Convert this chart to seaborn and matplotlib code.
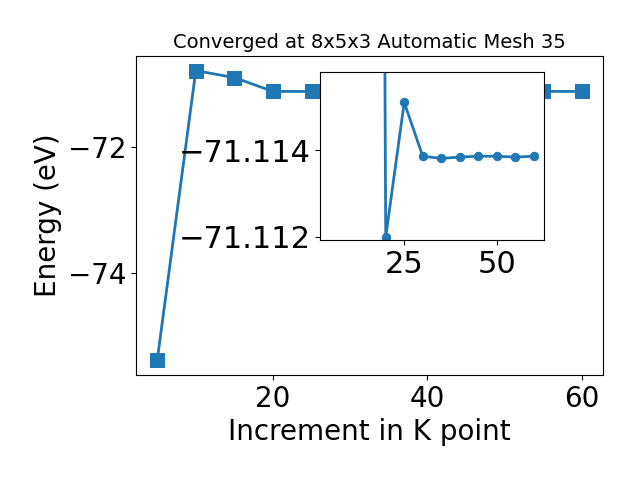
import numpy as np
import seaborn as sns
import matplotlib.pyplot as plt
import pandas as pd

# main curve
kpoints = [5, 10, 15, 20, 25, 30, 35, 40, 45, 50, 55, 60]
energy = [-75.38, -70.78, -70.89, -71.11, -71.11, -71.11, -71.11, -71.11, -71.11, -71.11, -71.11, -71.11]

# zoomed values for the inset
inset_kpoints = [15, 20, 25, 30, 35, 40, 45, 50, 55, 60]
inset_energy = [-71.20, -71.1120, -71.1151, -71.11386, -71.11381, -71.11384, -71.11386, -71.11386, -71.11384, -71.11386]

df = pd.DataFrame({'k': kpoints, 'E': energy})
df_in = pd.DataFrame({'k': inset_kpoints, 'E': inset_energy})

fig = plt.figure(figsize=(6.4, 4.8), dpi=100)
ax = fig.add_axes([0.2125, 0.219, 0.7295, 0.664])
sns.lineplot(x='k', y='E', data=df, marker='s', markersize=10, linewidth=2,
             color='#1f77b4', markeredgecolor='#1f77b4', ax=ax)
ax.set_xlim(2.25, 62.75)
ax.set_xlabel('Increment in K point', fontsize=20)
ax.set_ylabel('Energy (eV)', fontsize=20)
ax.set_title('Converged at 8x5x3 Automatic Mesh 35', fontsize=14)
ax.tick_params(labelsize=20)

ins = fig.add_axes([0.5, 0.5, 0.35, 0.35])
sns.lineplot(x='k', y='E', data=df_in, marker='o', markersize=6, linewidth=2,
             color='#1f77b4', markeredgecolor='#1f77b4', ax=ins)
ins.set_xlim(2.25, 62.75)
ins.set_ylim(-71.11193, -71.1158)
ins.set_yticks([-71.114, -71.112])
ins.ticklabel_format(axis='y', useOffset=False)
ins.set_xticks([25, 50])
ins.set_xlabel('')
ins.set_ylabel('')
ins.tick_params(labelsize=22)

plt.savefig('out.png')
